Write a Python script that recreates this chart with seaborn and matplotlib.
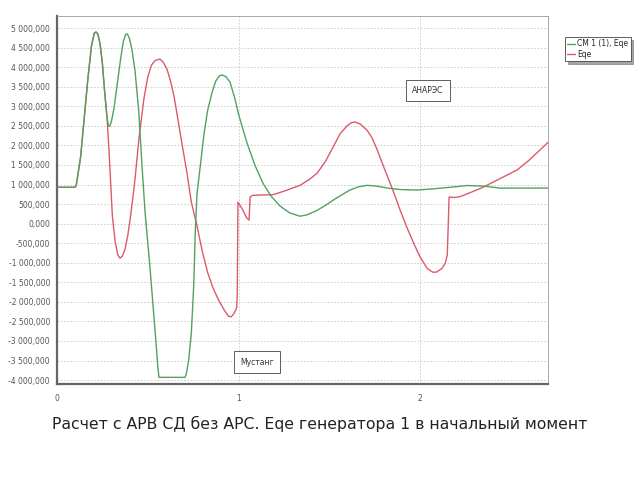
import matplotlib
matplotlib.use("Agg")
import matplotlib.pyplot as plt
import seaborn as sns
import pandas as pd

# ---- data (time, value) ----
green_t = [0.0, 0.099, 0.106, 0.115, 0.13, 0.15, 0.17, 0.19, 0.205, 0.215, 0.225,
           0.237, 0.25, 0.262, 0.275, 0.283, 0.29, 0.30, 0.314, 0.33, 0.35, 0.365,
           0.378, 0.388, 0.40, 0.413, 0.43, 0.45, 0.468, 0.485, 0.51, 0.54, 0.556,
           0.562, 0.705, 0.712, 0.725, 0.74, 0.753, 0.762, 0.771, 0.79, 0.81, 0.83,
           0.854, 0.875, 0.895, 0.91, 0.93, 0.953, 0.98, 1.0, 1.047, 1.09, 1.135,
           1.18, 1.229, 1.28, 1.339, 1.38, 1.433, 1.48, 1.521, 1.57, 1.614, 1.66,
           1.708, 1.76, 1.835, 1.9, 1.983, 2.07, 2.165, 2.259, 2.35, 2.441, 2.705]
green_v = [930, 930, 980, 1250, 1700, 2700, 3700, 4550, 4870, 4900, 4850,
           4600, 4100, 3400, 2750, 2500, 2490, 2620, 2950, 3500, 4200, 4650,
           4840, 4850, 4720, 4450, 3900, 2900, 1500, 300, -1000, -2720, -3700,
           -3930, -3930, -3850, -3500, -2800, -1600, -200, 750, 1500, 2300, 2900,
           3350, 3650, 3780, 3800, 3760, 3620, 3200, 2800, 2060, 1500, 1030,
           700, 450, 280, 190, 230, 340, 470, 600, 740, 860, 940,
           980, 960, 900, 870, 860, 890, 930, 975, 960, 910, 910]

red_t = [0.0, 0.099, 0.106, 0.115, 0.13, 0.15, 0.17, 0.19, 0.205, 0.215, 0.225,
         0.237, 0.25, 0.262, 0.275, 0.285, 0.295, 0.305, 0.32, 0.335, 0.347, 0.36,
         0.375, 0.39, 0.402, 0.415, 0.43, 0.452, 0.479, 0.50, 0.52, 0.54, 0.567,
         0.585, 0.606, 0.625, 0.645, 0.665, 0.69, 0.716, 0.74, 0.771, 0.80, 0.83,
         0.86, 0.89, 0.92, 0.945, 0.96, 0.975, 0.99, 0.993, 0.997, 1.02, 1.045,
         1.058, 1.064, 1.075, 1.102, 1.19, 1.25, 1.339, 1.39, 1.433, 1.48, 1.521,
         1.56, 1.598, 1.62, 1.642, 1.67, 1.708, 1.735, 1.763, 1.80, 1.851, 1.89,
         1.928, 1.965, 2.0, 2.04, 2.07, 2.09, 2.12, 2.14, 2.15, 2.155, 2.16,
         2.19, 2.22, 2.28, 2.347, 2.44, 2.534, 2.60, 2.66, 2.705]
red_v = [930, 930, 980, 1250, 1700, 2700, 3700, 4550, 4870, 4900, 4850,
         4600, 4100, 3400, 2750, 2000, 1100, 200, -450, -800, -880, -830,
         -650, -300, 80, 550, 1150, 2200, 3200, 3750, 4050, 4170, 4210,
         4130, 3950, 3650, 3250, 2700, 2000, 1300, 550, -50, -700, -1250,
         -1650, -1950, -2200, -2370, -2380, -2300, -2150, -1800, 550, 380, 150,
         90, 680, 720, 730, 740, 830, 980, 1130, 1290, 1600, 1960,
         2300, 2500, 2580, 2600, 2550, 2390, 2200, 1900, 1450, 850, 350,
         -100, -500, -850, -1150, -1240, -1240, -1150, -1000, -800, -100, 680,
         670, 690, 800, 930, 1150, 1370, 1620, 1880, 2080]

series_labels = ["CM 1 (1), Eqe", "Eqe"]
y_ticks = list(range(-4000, 5001, 500))
x_ticks = [0, 1, 2]
title = "Расчет с АРВ СД без АРС. Eqe генератора 1 в начальный момент"

GREEN = "#55a05f"
RED = "#dc5a6a"

sns.set_theme(style="white")
plt.rcParams["font.family"] = ["DejaVu Sans"]

fig = plt.figure(figsize=(6.4, 4.8), dpi=100)
ax = fig.add_axes([57 / 640, 1 - 384 / 480, (548 - 57) / 640, (384 - 16) / 480])

df_g = pd.DataFrame({"t": green_t, "v": green_v})
df_r = pd.DataFrame({"t": red_t, "v": red_v})
sns.lineplot(data=df_r, x="t", y="v", ax=ax, color=RED, lw=1.0, sort=False,
             estimator=None, label=series_labels[1], zorder=3)
sns.lineplot(data=df_g, x="t", y="v", ax=ax, color=GREEN, lw=1.0, sort=False,
             estimator=None, label=series_labels[0], zorder=4)

ax.set_xlim(0, 2.705)
ax.set_ylim(-4100, 5310)
ax.set_xlabel("")
ax.set_ylabel("")

def fmt(v):
    return f"{v:,.3f}".replace(",", " ").replace(".", ",")

ax.set_yticks(y_ticks)
ax.set_yticklabels([fmt(v) for v in y_ticks])
ax.set_xticks(x_ticks)
ax.set_xticklabels([str(v) for v in x_ticks])
ax.set_xticks([0.25, 0.5, 0.75, 1.25, 1.5, 1.75, 2.25, 2.5], minor=True)
ax.tick_params(axis="both", which="major", labelsize=5.5, colors="#555555",
               length=3, width=0.6, direction="out", pad=2)
ax.tick_params(axis="x", which="minor", length=2, width=0.5, colors="#777777",
               direction="out")
ax.tick_params(axis="x", which="major", pad=4)

for v in y_ticks:
    ax.axhline(v, color="#c8c8c8", lw=0.6, ls=(0, (2, 2)), zorder=1)
for v in x_ticks[1:]:
    ax.axvline(v, color="#c8c8c8", lw=0.6, ls=(0, (2, 2)), zorder=1)

for side in ["left", "bottom"]:
    ax.spines[side].set_color("#666666")
    ax.spines[side].set_linewidth(1.6)
for side in ["top", "right"]:
    ax.spines[side].set_color("#999999")
    ax.spines[side].set_linewidth(0.6)

ax.text(2.044, 3410, "АНАРЭС", fontsize=5.5, ha="center", va="center", color="#333333",
        bbox=dict(boxstyle="square,pad=0.8", fc="white", ec="#444444", lw=0.6), zorder=6)
ax.text(1.10, -3540, "Мустанг", fontsize=5.5, ha="center", va="center", color="#333333",
        bbox=dict(boxstyle="square,pad=0.8", fc="white", ec="#444444", lw=0.6), zorder=6)

handles, labels = ax.get_legend_handles_labels()
order = [labels.index(series_labels[0]), labels.index(series_labels[1])]
leg = ax.legend([handles[i] for i in order], [labels[i] for i in order],
                loc="upper left", bbox_to_anchor=(565 / 640, 1 - 37 / 480),
                bbox_transform=fig.transFigure, fontsize=5.5, frameon=True,
                fancybox=False, shadow=True, handlelength=1.0, handletextpad=0.3,
                borderpad=0.3, labelspacing=0.2, borderaxespad=0)
leg.get_frame().set_edgecolor("#444444")
leg.get_frame().set_linewidth(0.6)

fig.text(320 / 640, 1 - 424 / 480, title, fontsize=11.3, ha="center", va="center",
         color="#222222")

fig.savefig("out.png", dpi=100, facecolor="white")
